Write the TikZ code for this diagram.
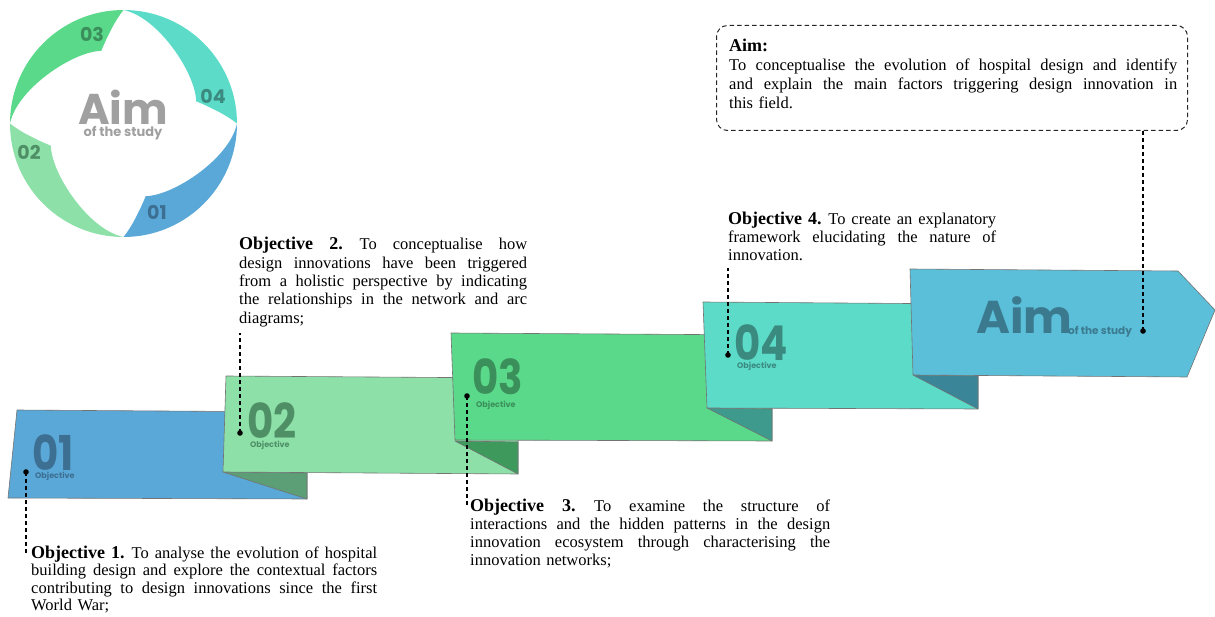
\documentclass[tikz,border=0pt]{standalone}
\usepackage{fontspec}
\usepackage{graphicx}
\setmainfont{Liberation Serif}
\newfontfamily\pop{Poppins}

% ribbon colours: face, fold, label
\definecolor{cOne}{HTML}{5AA8D8}
\definecolor{cOneT}{HTML}{3D6F92}
\definecolor{cTwo}{HTML}{8DE0A8}
\definecolor{cTwoF}{HTML}{5C9E76}
\definecolor{cTwoT}{HTML}{4F8F66}
\definecolor{cThree}{HTML}{5AD98A}
\definecolor{cThreeF}{HTML}{3D9A5C}
\definecolor{cThreeT}{HTML}{3B8F5B}
\definecolor{cFour}{HTML}{5CDBC8}
\definecolor{cFourF}{HTML}{3D9A8C}
\definecolor{cFourT}{HTML}{3B8A80}
\definecolor{cAim}{HTML}{5BBFDA}
\definecolor{cAimF}{HTML}{3A8598}
\definecolor{cAimT}{HTML}{3B7A8E}
\definecolor{cGrey}{HTML}{A0A0A0}

% one justified line: word spaces share the spare width evenly
\newcommand\jline[2]{\hbox to #1{\spaceskip=.25em plus 1fil\relax\xspaceskip=.3em plus 1fil\relax #2}\par}

\begin{document}
\begin{tikzpicture}[x=1pt,y=-1pt,
  face/.style={draw=black!55,line width=0.6pt,line join=round},
  bignum/.style={anchor=base west,inner sep=0pt,text depth=0pt,font=\pop\bfseries\fontsize{48}{48}\selectfont},
  smalllab/.style={anchor=base west,inner sep=0pt,text height=6pt,font=\pop\bfseries\fontsize{8}{8}\selectfont},
  ringnum/.style={inner sep=0pt,font=\pop\bfseries\fontsize{19}{19}\selectfont},
  body/.style={anchor=base west,inner sep=0pt,font=\fontsize{16.5}{#1}\selectfont},
  pin/.style={circle,fill=black,inner sep=0pt,minimum size=5.6pt},
  lead/.style={draw=black,line width=1.3pt,dash pattern=on 4pt off 3pt},
]
\useasboundingbox (0,0) rectangle (1215,617);

% ---- ring of four segments ----
\begin{scope}[shift={(123.5,123.5)},yscale=-1]
  \foreach \a/\c in {0/cFour,90/cThree,180/cTwo,270/cOne}{
    \fill[\c] (\a:113.5) arc[start angle=\a,delta angle=90,radius=113.5]
      .. controls ({\a+72}:112) and ({\a+35}:88) .. ({\a+17}:76)
      .. controls ({\a+10}:90) and ({\a+4}:105) .. (\a:113.5) -- cycle;
  }
\end{scope}
\node[inner sep=0pt,text=cGrey,font=\pop\bfseries\fontsize{43}{43}\selectfont] (ringaim) at (123,107) {Aim};
\node[inner sep=0pt,text=cGrey,font=\pop\bfseries\fontsize{13}{13}\selectfont] (ringsub) at (123,133) {of the study};
\node[ringnum,text=cThreeT] (r3) at (92,34) {03};
\node[ringnum,text=cFourT] (r4) at (213,96) {04};
\node[ringnum,text=cTwoT] (r2) at (29,152) {02};
\node[ringnum,text=cOneT] (r1) at (157,212) {01};

% ---- stepped ribbon ----
\filldraw[face,fill=cOne] (17,410) -- (307,412) -- (307,499) -- (8,498) -- cycle;
\filldraw[face,fill=cTwoF] (223,472) -- (307,473) -- (307,499) -- cycle;
\filldraw[face,fill=cTwo] (226,376) -- (518,378) -- (518,474) -- (223,472) -- cycle;
\filldraw[face,fill=cThreeF] (455,441) -- (518,442) -- (518,474) -- cycle;
\filldraw[face,fill=cThree] (451,333) -- (772,335) -- (772,441) -- (455,440) -- cycle;
\filldraw[face,fill=cFourF] (707,408) -- (772,409) -- (772,441) -- cycle;
\filldraw[face,fill=cFour] (703,302) -- (978,304) -- (978,409) -- (707,408) -- cycle;
\filldraw[face,fill=cAimF] (913,375) -- (978,376) -- (978,409) -- cycle;
\filldraw[face,fill=cAim] (910,269) -- (1178,271) -- (1215,310) -- (1187,377) -- (913,375) -- cycle;

% step labels
\node[bignum,text=cOneT] (n1) at (32,470) {\scalebox{0.84}[1]{01}};
\node[smalllab,text=cOneT] (o1) at (35,478) {Objective};
\node[bignum,text=cTwoT] (n2) at (247,438) {\scalebox{0.84}[1]{02}};
\node[smalllab,text=cTwoT] (o2) at (250,447) {Objective};
\node[bignum,text=cThreeT] (n3) at (472,395) {\scalebox{0.84}[1]{03}};
\node[smalllab,text=cThreeT] (o3) at (476,407) {Objective};
\node[bignum,text=cFourT] (n4) at (734,360) {\scalebox{0.84}[1]{04}};
\node[smalllab,text=cFourT] (o4) at (737,368) {Objective};
\node[anchor=base west,inner sep=0pt,text depth=0pt,text=cAimT,font=\pop\bfseries\fontsize{46}{46}\selectfont] (naim) at (976,334) {Aim};
\node[anchor=base west,inner sep=0pt,text=cAimT,font=\pop\bfseries\fontsize{10.5}{10.5}\selectfont] (oaim) at (1068,335) {of the study};

% ---- aim box ----
\node[draw=black!85,line width=1pt,dash pattern=on 4.5pt off 3pt,rounded corners=11pt,
      minimum width=471pt,minimum height=105pt,anchor=north west,inner sep=0pt] (aimbox) at (716,25) {};
\node[body=18.7,text width=448pt] (aimtext) at (729,52) {%
  {\fontsize{18}{18.7}\selectfont\bfseries Aim:}\par
  \jline{448pt}{To conceptualise the evolution of hospital design and identify}
  \jline{448pt}{and explain the main factors triggering design innovation in}
  this field.};

% ---- objective texts ----
\node[body=17.6,text width=346pt] (t1) at (31,558) {%
  \jline{346pt}{{\fontsize{18}{17.6}\selectfont\bfseries Objective 1.} To analyse the evolution of hospital}
  \jline{346pt}{building design and explore the contextual factors}
  \jline{346pt}{contributing to design innovations since the first}
  World War;};
\node[body=18.3,text width=288pt] (t2) at (239,250) {%
  \jline{288pt}{{\fontsize{18}{18.3}\selectfont\bfseries Objective 2.} To conceptualise how}
  \jline{288pt}{design innovations have been triggered}
  \jline{288pt}{from a holistic perspective by indicating}
  \jline{288pt}{the relationships in the network and arc}
  diagrams;};
\node[body=18.2,text width=360pt] (t3) at (470,511) {%
  \jline{360pt}{{\fontsize{18}{18.2}\selectfont\bfseries Objective 3.} To examine the structure of}
  \jline{360pt}{interactions and the hidden patterns in the design}
  \jline{360pt}{innovation ecosystem through characterising the}
  innovation networks;};
\node[body=17.8,text width=268pt] (t4) at (728,225) {%
  \jline{268pt}{{\fontsize{18}{17.8}\selectfont\bfseries Objective 4.} To create an explanatory}
  \jline{268pt}{framework elucidating the nature of}
  innovation.};

% ---- pins and leader lines ----
\node[pin] (p1) at (26,472) {};
\node[pin] (p2) at (240,433) {};
\node[pin] (p3) at (467,396) {};
\node[pin] (p4) at (728,355) {};
\node[pin] (pa) at (1143,331) {};
\coordinate (e1) at (26,554);
\coordinate (e2) at (240,333);
\coordinate (e3) at (467,505);
\coordinate (e4) at (728,268);
\draw[lead] (p1.center) -- (e1);
\draw[lead] (p2.center) -- (e2);
\draw[lead] (p3.center) -- (e3);
\draw[lead] (p4.center) -- (e4);
\draw[lead] (pa.center) -- (pa |- aimbox.south);
\end{tikzpicture}
\end{document}
